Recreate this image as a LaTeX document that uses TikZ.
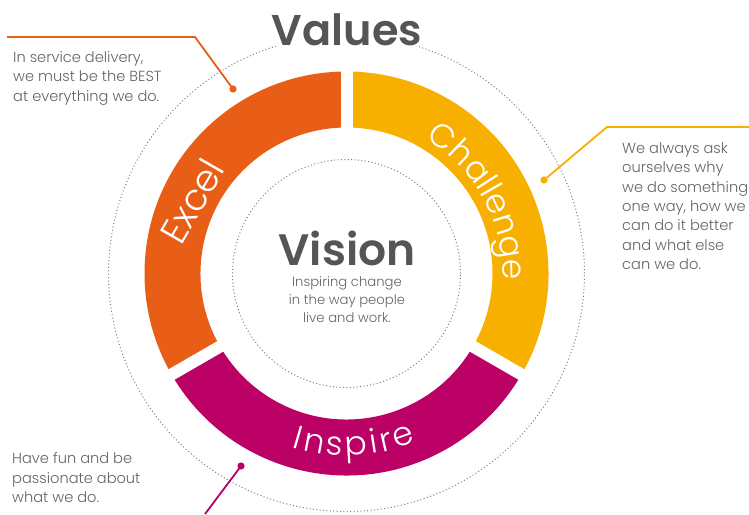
\documentclass[tikz,border=0pt]{standalone}
\usepackage{fontspec}
\setmainfont{Poppins}
\newfontfamily\lightfont{Poppins Light}
\newfontfamily\headfont{Poppins SemiBold}
\usetikzlibrary{decorations.text}

\definecolor{excelorange}{RGB}{232,94,22}
\definecolor{challengeyellow}{RGB}{248,176,0}
\definecolor{inspiremagenta}{RGB}{187,0,102}
\definecolor{headgray}{RGB}{84,85,87}
\definecolor{bodygray}{RGB}{100,100,102}
\definecolor{dotgray}{RGB}{125,125,125}

\newcommand\ringfont{\lightfont\fontsize{33}{33}\selectfont}

\tikzset{
  dotline/.style={dotgray, line width=1pt, dash pattern=on 1pt off 2.4pt},
  gapline/.style={white, line width=12pt},
  leader/.style={line width=1.8pt},
  titletext/.style={headgray, font=\headfont\fontsize{43}{43}\selectfont, inner sep=0pt},
  bodytext/.style={bodygray, font=\lightfont\fontsize{14.6}{19.3}\selectfont, inner sep=0pt, align=left, anchor=north west},
  ringlabel/.style={white, font=\lightfont\fontsize{37}{37}\selectfont, inner sep=0pt}
}

\begin{document}
\begin{tikzpicture}[x=1pt,y=1pt]
\useasboundingbox (0,0) rectangle (749,514);
\coordinate (c) at (346.5,240.5);

% dotted guide circles
\draw[dotline] (c) circle[radius=238];
\draw[dotline] (c) circle[radius=114];

% ring segments
\fill[excelorange] ([shift={(90:202)}]c) arc[start angle=90, end angle=210, radius=202]
  -- ([shift={(210:146)}]c) arc[start angle=210, end angle=90, radius=146] -- cycle;
\fill[challengeyellow] ([shift={(-30:202)}]c) arc[start angle=-30, end angle=90, radius=202]
  -- ([shift={(90:146)}]c) arc[start angle=90, end angle=-30, radius=146] -- cycle;
\fill[inspiremagenta] ([shift={(210:202)}]c) arc[start angle=210, end angle=330, radius=202]
  -- ([shift={(330:146)}]c) arc[start angle=330, end angle=210, radius=146] -- cycle;

% straight white gaps between the segments
\foreach \a in {90,210,330}
  \draw[gapline] ([shift={(\a:138)}]c) -- ([shift={(\a:210)}]c);

% segment labels
\node[ringlabel, rotate=60] (excel) at (192,313) {Excel};
\path[decorate, decoration={text along path, text color=white,
    text={|\ringfont|Challenge}, text align={fit to path}}]
  ([shift={(59.5:156)}]c) arc[start angle=59.5, end angle=-2.5, radius=156];
\path[decorate, decoration={text along path, text color=white,
    text={|\ringfont|Inspire}, text align={fit to path}}]
  ([shift={(252.5:182)}]c) arc[start angle=252.5, end angle=292.5, radius=182];

% headings
\node[titletext, fill=white, inner xsep=6pt] (values) at (347,484) {Values};
\node[titletext, font=\headfont\fontsize{44}{44}\selectfont] (vision) at (347,266) {Vision};
\node[bodytext, align=center, anchor=north, font=\lightfont\fontsize{13.2}{18}\selectfont]
  (visiontext) at (347,237.5) {Inspiring change\\in the way people\\live and work.};

% value descriptions
\node[bodytext] (exceltext) at (13,462.5) {In service delivery,\\we must be the BEST\\at everything we do.};
\node[bodytext] (challengetext) at (622,371.5) {We always ask\\ourselves why\\we do something\\one way, how we\\can do it better\\and what else\\can we do.};
\node[bodytext] (inspiretext) at (12,61.5) {Have fun and be\\passionate about\\what we do.};

% leader lines
\coordinate (exceldot) at (233,425);
\coordinate (excelbend) at (195,477);
\coordinate (excelend) at (7,477);
\draw[leader, excelorange] (excelend) -- (excelbend) -- (exceldot);
\fill[excelorange] (exceldot) circle[radius=3.6];

\coordinate (challengedot) at (544,334);
\coordinate (challengebend) at (607,387);
\coordinate (challengeend) at (749,387);
\draw[leader, challengeyellow] (challengeend) -- (challengebend) -- (challengedot);
\fill[challengeyellow] (challengedot) circle[radius=3.6];

\coordinate (inspiredot) at (241,48);
\coordinate (inspireend) at (205,0);
\draw[leader, inspiremagenta] (inspireend) -- (inspiredot);
\fill[inspiremagenta] (inspiredot) circle[radius=3.6];
\end{tikzpicture}
\end{document}
